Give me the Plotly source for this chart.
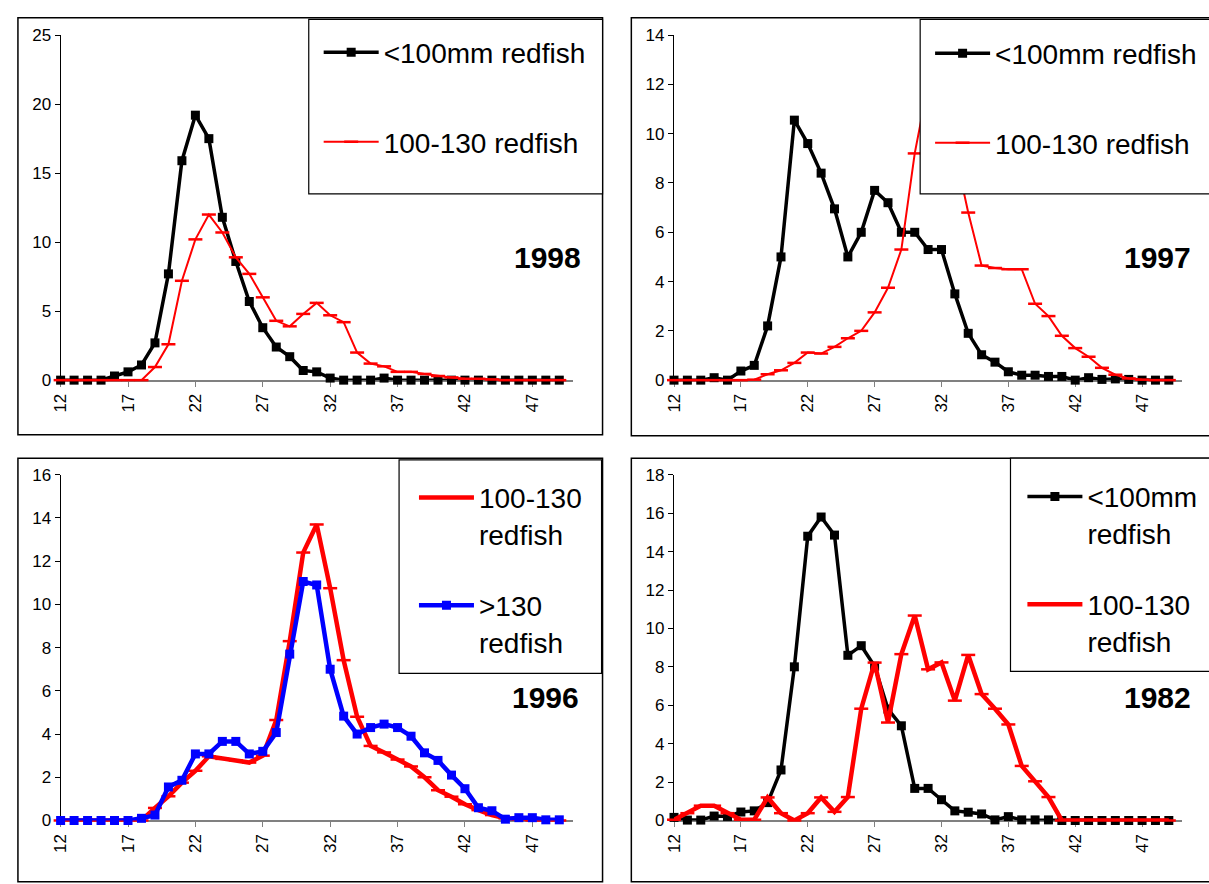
import plotly.graph_objects as go

W, H = 1209, 884

# ---------------- data ----------------
lengths = [12, 13, 14, 15, 16, 17, 18, 19, 20, 21, 22, 23, 24, 25, 26, 27, 28, 29, 30,
           31, 32, 33, 34, 35, 36, 37, 38, 39, 40, 41, 42, 43, 44, 45, 46, 47, 48, 49]
tick_vals = [12, 17, 22, 27, 32, 37, 42, 47]
tick_text = ["12", "17", "22", "27", "32", "37", "42", "47"]

y1998_small = [0, 0, 0, 0, 0.3, 0.6, 1.1, 2.7, 7.7, 15.9, 19.2, 17.5, 11.8, 8.6, 5.7, 3.8, 2.4, 1.7, 0.7,
               0.6, 0.15, 0, 0, 0, 0.15, 0, 0, 0, 0, 0, 0, 0, 0, 0, 0, 0, 0, 0]
y1998_mid = [0, 0, 0, 0, 0, 0, 0, 0.95, 2.6, 7.2, 10.2, 12.0, 10.7, 8.9, 7.7, 6.0, 4.3, 3.9, 4.8,
             5.6, 4.7, 4.2, 2.0, 1.2, 1.0, 0.6, 0.6, 0.45, 0.3, 0.2, 0.1, 0.1, 0.05, 0, 0, 0, 0, 0]

y1997_small = [0, 0, 0, 0.1, 0, 0.37, 0.6, 2.2, 5.0, 10.55, 9.6, 8.4, 6.95, 5.0, 6.0, 7.7, 7.2, 6.0, 6.0,
               5.3, 5.3, 3.5, 1.9, 1.03, 0.73, 0.34, 0.2, 0.2, 0.15, 0.15, 0, 0.1, 0.03, 0.05, 0.03, 0, 0, 0]
y1997_mid = [0, 0, 0, 0, 0, 0, 0.02, 0.24, 0.4, 0.7, 1.12, 1.08, 1.35, 1.7, 2.0, 2.75, 3.75, 5.3, 9.2,
             12.0, 11.8, 9.3, 6.8, 4.65, 4.55, 4.5, 4.5, 3.1, 2.6, 1.8, 1.3, 0.95, 0.5, 0.22, 0.07, 0.02, 0, 0]

y1996_mid = [0, 0, 0, 0, 0, 0, 0, 0.58, 1.12, 1.75, 2.3, 2.97, 2.85, 2.78, 2.68, 3.0, 4.65, 8.3, 12.4,
             13.7, 10.75, 7.42, 4.8, 3.45, 3.15, 2.82, 2.5, 2.0, 1.4, 1.1, 0.75, 0.48, 0.25, 0.1, 0.05, 0, 0, 0]
y1996_large = [0, 0, 0, 0, 0, 0, 0.1, 0.25, 1.55, 1.86, 3.08, 3.08, 3.66, 3.66, 3.08, 3.2, 4.07, 7.7, 11.06,
               10.9, 7.0, 4.83, 4.0, 4.3, 4.46, 4.3, 3.9, 3.13, 2.78, 2.1, 1.47, 0.59, 0.45, 0.06, 0.13, 0.13, 0.03, 0.03]

y1982_small = [0.16, 0.02, 0.02, 0.23, 0.21, 0.44, 0.5, 0.93, 2.63, 8.0, 14.8, 15.8, 14.86, 8.6, 9.1, 8.03, 5.8, 4.93, 1.67,
               1.67, 1.08, 0.5, 0.43, 0.34, 0.03, 0.2, 0.03, 0.03, 0.03, 0, 0, 0, 0, 0, 0, 0, 0, 0]
y1982_mid = [0.04, 0.38, 0.77, 0.77, 0.38, 0.04, 0.04, 1.2, 0.38, 0.0, 0.38, 1.2, 0.45, 1.22, 5.82, 8.22, 5.1, 8.66, 10.67,
             7.87, 8.23, 6.24, 8.62, 6.58, 5.82, 5.0, 2.84, 2.04, 1.22, 0, 0, 0, 0, 0, 0, 0, 0, 0]

# ---------------- helpers ----------------
def px(x):
    return x / W

def py(y):
    return 1 - y / H

FONT = "Arial, 'Liberation Sans', sans-serif"
RED = "#FF0000"
BLACK = "#000000"
BLUE = "#0000FF"

panels = [
    dict(xd=(52, 568), yd=(26.7, 379.3), ymax=25, dt=5),
    dict(xd=(670, 1182), yd=(26.7, 379.3), ymax=14, dt=2),
    dict(xd=(52, 568), yd=(476, 829.3), ymax=16, dt=2),
    dict(xd=(670, 1182), yd=(476, 829.3), ymax=18, dt=2),
]

fig = go.Figure()

def black_sq(y, name, ax, leg, group):
    fig.add_trace(go.Scatter(
        x=lengths, y=y, name=name, mode="lines+markers",
        line=dict(color=BLACK, width=3.5),
        marker=dict(symbol="square", size=9, color=BLACK),
        xaxis="x" + ax, yaxis="y" + ax, legend=leg, legendgroup=group, cliponaxis=False))

def red_dash(y, name, ax, leg, group, width):
    fig.add_trace(go.Scatter(
        x=lengths, y=y, name=name, mode="lines+markers",
        line=dict(color=RED, width=width),
        marker=dict(symbol="line-ew", size=10, color=RED, line=dict(color=RED, width=2.5)),
        xaxis="x" + ax, yaxis="y" + ax, legend=leg, legendgroup=group, cliponaxis=False))

black_sq(y1998_small, "<100mm redfish", "", "legend", "a1")
red_dash(y1998_mid, "100-130 redfish", "", "legend", "b1", 2)
black_sq(y1997_small, "<100mm redfish", "2", "legend2", "a2")
red_dash(y1997_mid, "100-130 redfish", "2", "legend2", "b2", 2)
red_dash(y1996_mid, "100-130<br>redfish", "3", "legend3", "a3", 4.5)
fig.add_trace(go.Scatter(
    x=lengths, y=y1996_large, name=">130<br>redfish", mode="lines+markers",
    line=dict(color=BLUE, width=4.5),
    marker=dict(symbol="square", size=9, color=BLUE),
    xaxis="x3", yaxis="y3", legend="legend3", legendgroup="b3", cliponaxis=False))
black_sq(y1982_small, "<100mm<br>redfish", "4", "legend4", "a4")
red_dash(y1982_mid, "100-130<br>redfish", "4", "legend4", "b4", 4.5)

layout = dict(
    width=W, height=H, margin=dict(l=0, r=0, t=0, b=0),
    paper_bgcolor="white", plot_bgcolor="rgba(0,0,0,0)",
    font=dict(family=FONT, color="black"),
    showlegend=True,
)

for i, p in enumerate(panels):
    sfx = "" if i == 0 else str(i + 1)
    layout["xaxis" + sfx] = dict(
        domain=[px(p["xd"][0]), px(p["xd"][1])], range=[12, 50],
        anchor="y" + sfx, tickmode="array", tickvals=tick_vals, ticktext=tick_text,
        tickangle=-90, ticks="outside", ticklen=5, tickcolor="#808080",
        showline=True, linecolor="#808080", linewidth=1.5,
        showgrid=False, zeroline=False, layer="below traces",
        tickfont=dict(size=17, family=FONT, color="black"), fixedrange=True,
    )
    layout["yaxis" + sfx] = dict(
        domain=[py(p["yd"][1]), py(p["yd"][0])], range=[0, p["ymax"]],
        anchor="x" + sfx, dtick=p["dt"], tick0=0, ticks="outside", ticklen=5,
        tickcolor="black", showline=True, linecolor="black", linewidth=1.2,
        showgrid=False, zeroline=False, layer="below traces",
        tickfont=dict(size=17, family=FONT, color="black"), fixedrange=True,
    )

# legends: (name, left px, top px, group gap)
leg_specs = [
    ("legend", 312, 19, 50),
    ("legend2", 928, 20, 50),
    ("legend3", 408, 474, 32),
    ("legend4", 1021, 473, 32),
]
for name, lx, ly, gap in leg_specs:
    layout[name] = dict(
        x=px(lx), y=py(ly), xanchor="left", yanchor="top",
        bgcolor="rgba(0,0,0,0)", borderwidth=0,
        font=dict(size=28, family=FONT, color="black"),
        tracegroupgap=gap, valign="top", itemwidth=55,
        itemclick=False, itemdoubleclick=False,
    )

shapes = []
for (x0, y0, x1, y1) in [(9, 9, 598, 435), (627, 9, 1215, 436), (9, 459, 598, 892), (627, 459, 1215, 892)]:
    shapes.append(dict(type="rect", xref="paper", yref="paper", x0=px(x0), x1=px(x1), y0=py(y1), y1=py(y0),
                       line=dict(color="black", width=1.5), fillcolor="rgba(0,0,0,0)", layer="below"))
for (x0, y0, x1, y1) in [(302, 10.7, 598, 189), (918, 10.7, 1215, 189), (393, 460.7, 597, 679), (1009, 459, 1215, 677)]:
    shapes.append(dict(type="rect", xref="paper", yref="paper", x0=px(x0), x1=px(x1), y0=py(y1), y1=py(y0),
                       line=dict(color="black", width=1.2), fillcolor="white", layer="above"))
layout["shapes"] = shapes

annotations = []
for txt, cx, cy in [("1998", 543, 254), ("1997", 1157, 254), ("1996", 541, 704), ("1982", 1157, 704)]:
    annotations.append(dict(text="<b>%s</b>" % txt, x=px(cx), y=py(cy), xref="paper", yref="paper",
                            xanchor="center", yanchor="middle", showarrow=False,
                            font=dict(size=30, family=FONT, color="black")))
layout["annotations"] = annotations

fig.update_layout(**layout)
fig.write_html("out.html")
